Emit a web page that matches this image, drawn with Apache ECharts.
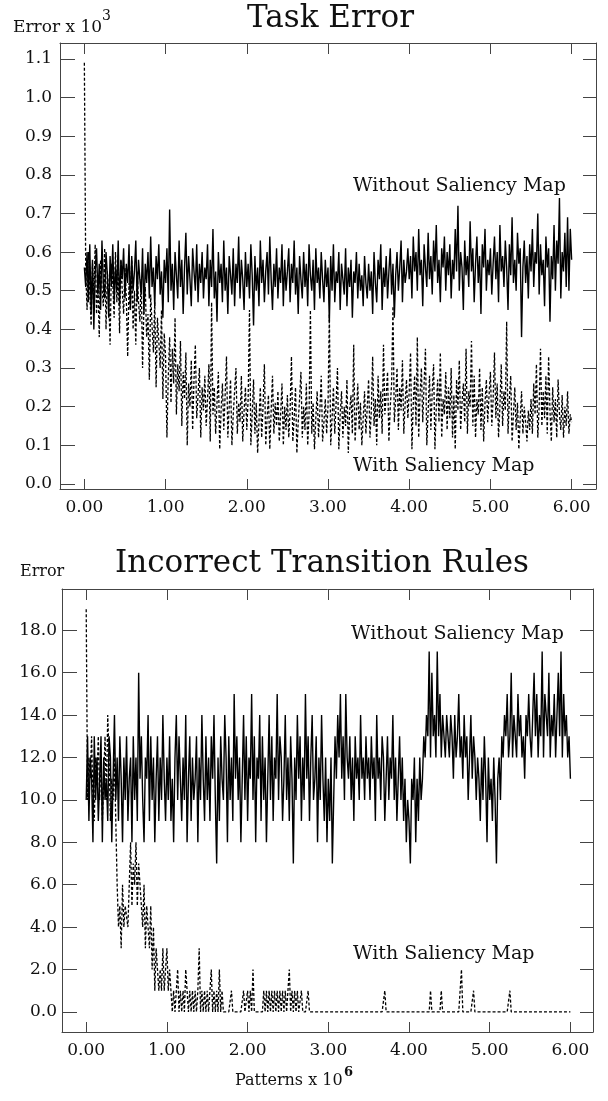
<!DOCTYPE html>
<html>
<head>
<meta charset="utf-8">
<script src="https://cdn.jsdelivr.net/npm/echarts@6/dist/echarts.min.js"></script>
<style>
  html, body { margin: 0; padding: 0; background: #fff; }
  #main { width: 608px; height: 1101px; }
</style>
</head>
<body>
<div id="main"></div>
<script>
// x runs 0 .. 6 (patterns x 10^6), points evenly spaced, 30 per half unit
const X_MAX = 6;
const xTicks = [0, 1, 2, 3, 4, 5, 6];
const taskTicks = [0, 0.1, 0.2, 0.3, 0.4, 0.5, 0.6, 0.7, 0.8, 0.9, 1.0, 1.1];
const ruleTicks = [0, 2, 4, 6, 8, 10, 12, 14, 16, 18];

// Task Error (x 10^3)
const taskWithout = [
  0.56,0.51,0.60,0.47,0.62,0.44,0.58,0.40,0.55,0.61,0.49,0.57,0.45,0.63,0.52,0.48,0.60,0.54,0.43,0.59,0.51,0.62,0.47,0.56,0.50,0.63,0.46,0.58,0.53,0.61,
  0.48,0.57,0.52,0.62,0.45,0.59,0.50,0.55,0.63,0.47,0.58,0.53,0.49,0.61,0.44,0.57,0.52,0.60,0.48,0.64,0.51,0.56,0.46,0.59,0.53,0.62,0.49,0.55,0.43,0.58,
  0.52,0.61,0.47,0.71,0.50,0.57,0.45,0.60,0.54,0.48,0.63,0.51,0.58,0.44,0.56,0.65,0.49,0.59,0.53,0.46,0.61,0.55,0.50,0.62,0.47,0.57,0.52,0.60,0.48,0.56,
  0.53,0.62,0.46,0.58,0.51,0.66,0.48,0.55,0.42,0.60,0.52,0.57,0.47,0.63,0.50,0.56,0.44,0.59,0.54,0.49,0.61,0.46,0.57,0.52,0.64,0.48,0.58,0.53,0.45,0.60,
  0.51,0.57,0.48,0.62,0.54,0.41,0.59,0.50,0.56,0.46,0.63,0.52,0.58,0.47,0.55,0.60,0.49,0.64,0.53,0.45,0.57,0.51,0.61,0.48,0.56,0.52,0.62,0.46,0.58,0.50,
  0.55,0.61,0.47,0.57,0.52,0.63,0.49,0.56,0.44,0.59,0.53,0.48,0.60,0.51,0.57,0.46,0.62,0.54,0.50,0.58,0.45,0.61,0.52,0.56,0.48,0.60,0.53,0.47,0.58,0.51,
  0.56,0.42,0.59,0.50,0.62,0.47,0.55,0.52,0.60,0.45,0.57,0.53,0.49,0.61,0.46,0.56,0.51,0.58,0.43,0.55,0.52,0.60,0.48,0.57,0.50,0.54,0.46,0.59,0.52,0.48,
  0.57,0.50,0.55,0.44,0.60,0.52,0.47,0.58,0.53,0.62,0.45,0.56,0.51,0.59,0.48,0.55,0.61,0.49,0.57,0.43,0.54,0.60,0.50,0.56,0.63,0.47,0.58,0.52,0.55,0.61,
  0.53,0.59,0.48,0.64,0.55,0.60,0.50,0.66,0.54,0.58,0.46,0.62,0.56,0.51,0.65,0.53,0.59,0.49,0.63,0.55,0.67,0.52,0.58,0.47,0.61,0.56,0.64,0.50,0.60,0.54,
  0.62,0.48,0.58,0.53,0.66,0.55,0.72,0.50,0.60,0.56,0.45,0.63,0.54,0.59,0.51,0.68,0.55,0.61,0.47,0.57,0.64,0.52,0.59,0.44,0.62,0.56,0.66,0.50,0.58,0.54,
  0.61,0.49,0.57,0.64,0.53,0.60,0.47,0.67,0.55,0.59,0.51,0.63,0.56,0.45,0.62,0.54,0.69,0.52,0.58,0.50,0.65,0.57,0.61,0.38,0.56,0.63,0.52,0.59,0.48,0.62,
  0.55,0.66,0.51,0.60,0.57,0.70,0.49,0.62,0.54,0.58,0.46,0.64,0.56,0.61,0.42,0.59,0.53,0.67,0.50,0.63,0.57,0.74,0.48,0.60,0.55,0.65,0.51,0.69,0.50,0.66,
  0.58
];
const taskWith = [
  1.09,0.55,0.45,0.60,0.50,0.41,0.57,0.48,0.62,0.44,0.53,0.38,0.58,0.51,0.46,0.61,0.40,0.55,0.49,0.36,0.57,0.52,0.43,0.60,0.47,0.55,0.39,0.58,0.50,0.44,
  0.56,0.48,0.33,0.52,0.45,0.58,0.40,0.50,0.36,0.55,0.47,0.42,0.53,0.30,0.46,0.51,0.38,0.44,0.27,0.49,0.41,0.34,0.47,0.25,0.43,0.37,0.30,0.45,0.22,0.39,
  0.33,0.12,0.28,0.38,0.21,0.35,0.26,0.43,0.18,0.31,0.24,0.37,0.15,0.29,0.22,0.34,0.10,0.26,0.20,0.32,0.14,0.27,0.36,0.17,0.23,0.30,0.12,0.25,0.19,0.28,
  0.15,0.22,0.31,0.11,0.47,0.18,0.25,0.13,0.21,0.29,0.09,0.19,0.26,0.14,0.23,0.33,0.12,0.20,0.27,0.10,0.18,0.24,0.30,0.13,0.21,0.16,0.28,0.11,0.19,0.25,
  0.14,0.22,0.45,0.10,0.18,0.27,0.13,0.21,0.08,0.16,0.25,0.12,0.20,0.31,0.10,0.17,0.23,0.09,0.19,0.28,0.13,0.21,0.15,0.24,0.11,0.18,0.26,0.10,0.20,0.14,
  0.23,0.12,0.19,0.33,0.11,0.17,0.25,0.08,0.16,0.22,0.29,0.12,0.20,0.14,0.26,0.10,0.18,0.45,0.13,0.21,0.09,0.17,0.24,0.12,0.19,0.28,0.11,0.16,0.22,0.13,
  0.20,0.44,0.10,0.17,0.25,0.13,0.21,0.30,0.09,0.18,0.24,0.12,0.20,0.15,0.27,0.08,0.19,0.23,0.13,0.36,0.11,0.18,0.26,0.14,0.21,0.10,0.17,0.24,0.13,0.20,
  0.27,0.12,0.19,0.33,0.15,0.22,0.10,0.28,0.17,0.24,0.13,0.36,0.18,0.23,0.29,0.11,0.20,0.26,0.46,0.16,0.22,0.30,0.14,0.25,0.19,0.32,0.13,0.21,0.27,0.17,
  0.24,0.34,0.09,0.21,0.28,0.15,0.38,0.12,0.23,0.30,0.16,0.26,0.35,0.10,0.19,0.28,0.14,0.24,0.31,0.09,0.20,0.27,0.16,0.34,0.12,0.22,0.18,0.29,0.14,0.25,
  0.17,0.30,0.12,0.23,0.09,0.27,0.19,0.32,0.14,0.21,0.26,0.16,0.35,0.13,0.24,0.20,0.37,0.15,0.28,0.12,0.22,0.18,0.30,0.14,0.25,0.11,0.21,0.27,0.16,0.23,
  0.29,0.15,0.22,0.34,0.17,0.26,0.12,0.20,0.31,0.15,0.24,0.19,0.42,0.13,0.22,0.28,0.11,0.18,0.25,0.14,0.21,0.09,0.17,0.24,0.13,0.20,0.16,0.11,0.19,0.14,
  0.22,0.13,0.26,0.18,0.31,0.12,0.20,0.35,0.15,0.24,0.17,0.28,0.13,0.33,0.19,0.11,0.25,0.16,0.22,0.12,0.27,0.18,0.14,0.23,0.12,0.20,0.15,0.24,0.13,0.18,
  0.16
];

// Incorrect Transition Rules (count)
const rulesWithout = [
  10,13,9,12,11,8,13,10,12,9,11,13,8,12,10,11,9,13,12,8,11,14,10,12,9,13,11,8,12,10,
  13,9,11,12,8,13,10,12,9,16,11,13,10,8,12,11,14,9,13,10,12,8,11,13,9,12,10,14,11,9,
  12,10,13,9,11,8,12,14,10,13,11,9,12,10,14,8,11,13,9,12,10,11,13,8,12,10,14,11,9,13,
  10,12,9,13,11,14,10,7,12,9,13,11,10,14,12,8,13,10,12,9,15,11,13,10,12,8,11,14,10,13,
  9,12,11,15,10,13,8,12,11,14,9,13,10,12,8,11,14,10,13,9,12,11,15,10,13,12,9,11,14,10,
  12,9,13,11,7,12,10,14,11,13,9,12,10,15,11,13,9,12,14,10,11,13,8,12,10,14,11,9,12,8,
  11,9,12,7,10,13,11,14,12,15,11,13,10,15,12,11,13,10,12,9,13,11,12,10,14,11,12,10,13,11,
  12,10,13,11,12,9,14,11,12,10,13,12,9,11,13,10,12,11,14,10,12,9,11,13,10,12,9,11,8,10,
  9,7,11,10,12,8,11,9,12,10,11,13,12,14,13,17,12,16,13,14,12,17,13,15,12,14,13,12,14,13,
  12,14,13,11,14,12,13,15,12,13,11,14,12,13,10,12,14,11,13,12,10,12,11,9,12,10,13,11,8,12,
  10,11,9,12,10,7,11,12,10,13,12,14,13,15,12,13,16,12,14,13,12,15,13,14,12,13,11,14,13,15,
  13,12,14,16,13,15,12,14,13,17,12,15,14,13,16,12,14,13,15,12,14,16,13,17,12,15,13,14,12,13,
  11
];
const rulesWith = [
  19,10,12,11,13,10,9,12,11,13,10,12,9,11,13,10,14,12,9,11,10,12,9,6,4,5,3,6,4,5,
  5,4,6,8,5,7,6,8,5,7,6,5,4,6,3,5,4,3,5,2,4,1,3,2,1,2,1,3,1,2,
  3,1,2,1,0,1,0,1,2,0,1,0,1,0,2,1,0,1,0,1,0,1,0,1,3,0,1,0,1,0,
  1,0,1,2,0,1,0,1,0,2,0,1,0,0,0,0,0,0,1,0,0,0,0,0,0,0,0,1,0,0,
  1,0,1,0,2,0,0,0,0,0,0,0,1,0,1,0,1,0,1,0,1,0,1,0,1,0,1,0,1,0,
  1,2,0,1,0,1,0,1,0,0,1,0,0,0,0,1,0,0,0,0,0,0,0,0,0,0,0,0,0,0,
  0,0,0,0,0,0,0,0,0,0,0,0,0,0,0,0,0,0,0,0,0,0,0,0,0,0,0,0,0,0,
  0,0,0,0,0,0,0,0,0,0,0,0,1,0,0,0,0,0,0,0,0,0,0,0,0,0,0,0,0,0,
  0,0,0,0,0,0,0,0,0,0,0,0,0,0,0,0,1,0,0,0,0,0,0,0,1,0,0,0,0,0,
  0,0,0,0,0,0,0,0,0,2,0,0,0,0,0,0,0,0,1,0,0,0,0,0,0,0,0,0,0,0,
  0,0,0,0,0,0,0,0,0,0,0,0,0,0,0,1,0,0,0,0,0,0,0,0,0,0,0,0,0,0,
  0,0,0,0,0,0,0,0,0,0,0,0,0,0,0,0,0,0,0,0,0,0,0,0,0,0,0,0,0,0,
  0
];

const FONT = '"DejaVu Serif", "Liberation Serif", serif';
const BOX = '#444';

function pairs(arr) {
  const n = arr.length - 1;
  return arr.map((v, i) => [i * X_MAX / n, v]);
}

function xAxisPair(grid, min, max) {
  const base = {
    type: 'value', gridIndex: grid, min: min, max: max,
    splitLine: { show: false },
    axisLine: { show: true, onZero: false, lineStyle: { color: BOX, width: 1 } }
  };
  return [
    Object.assign({}, base, {
      position: 'bottom',
      axisTick: { show: true, inside: true, length: 10, customValues: xTicks, lineStyle: { color: BOX } },
      axisLabel: {
        show: true, customValues: xTicks, margin: 10,
        fontFamily: FONT, fontSize: 17, color: '#111',
        formatter: v => v.toFixed(2)
      }
    }),
    Object.assign({}, base, {
      position: 'top',
      axisTick: { show: true, inside: true, length: 11, customValues: xTicks, lineStyle: { color: BOX } },
      axisLabel: { show: false }
    })
  ];
}

function yAxisPair(grid, min, max, ticks, digits, margin) {
  const base = {
    type: 'value', gridIndex: grid, min: min, max: max,
    splitLine: { show: false },
    axisLine: { show: true, onZero: false, lineStyle: { color: BOX, width: 1 } }
  };
  return [
    Object.assign({}, base, {
      position: 'left',
      axisTick: { show: true, inside: true, length: 15, customValues: ticks, lineStyle: { color: BOX } },
      axisLabel: {
        show: true, customValues: ticks, margin: margin,
        fontFamily: FONT, fontSize: 17, color: '#111',
        formatter: v => v.toFixed(digits)
      }
    }),
    Object.assign({}, base, {
      position: 'right',
      axisTick: { show: true, inside: true, length: 13, customValues: ticks, lineStyle: { color: BOX } },
      axisLabel: { show: false }
    })
  ];
}

function lineSeries(name, x, y, data, dashed) {
  return {
    name: name, type: 'line', xAxisIndex: x, yAxisIndex: y,
    data: pairs(data), showSymbol: false, symbol: 'none',
    lineStyle: { color: '#000', width: dashed ? 1.3 : 1.4, type: dashed ? [3, 2] : 'solid' },
    silent: true
  };
}

function label(text, left, top, size, weight) {
  return {
    type: 'text', left: left, top: top,
    style: { text: text, fontFamily: FONT, fontSize: size, fontWeight: weight || 'normal', fill: '#111' }
  };
}

const chart = echarts.init(document.getElementById('main'));
chart.setOption({
  animation: false,
  backgroundColor: '#fff',
  grid: [
    { left: 60, top: 43, width: 536, height: 446 },
    { left: 62, top: 589, width: 531, height: 443 }
  ],
  xAxis: xAxisPair(0, -0.3, 6.3).concat(xAxisPair(1, -0.3, 6.28)),
  yAxis: yAxisPair(0, -0.013, 1.141, taskTicks, 1, 8).concat(yAxisPair(1, -0.95, 19.95, ruleTicks, 1, 5)),
  series: [
    lineSeries('With Saliency Map', 0, 0, taskWith, true),
    lineSeries('Without Saliency Map', 0, 0, taskWithout, false),
    lineSeries('With Saliency Map', 2, 2, rulesWith, true),
    lineSeries('Without Saliency Map', 2, 2, rulesWithout, false)
  ],
  graphic: [
    label('Task Error', 247, 3, 31),
    label('Error x 10', 13, 19, 17),
    label('3', 102, 9, 14),
    label('Without Saliency Map', 353, 177, 19),
    label('With Saliency Map', 353, 457, 19),
    label('Incorrect Transition Rules', 115, 548, 31),
    label('Error', 20, 564, 16),
    label('Without Saliency Map', 351, 625, 19),
    label('With Saliency Map', 353, 945, 19),
    label('Patterns x 10', 235, 1073, 16),
    label('6', 344, 1066, 13, 'bold')
  ]
});
</script>
</body>
</html>
